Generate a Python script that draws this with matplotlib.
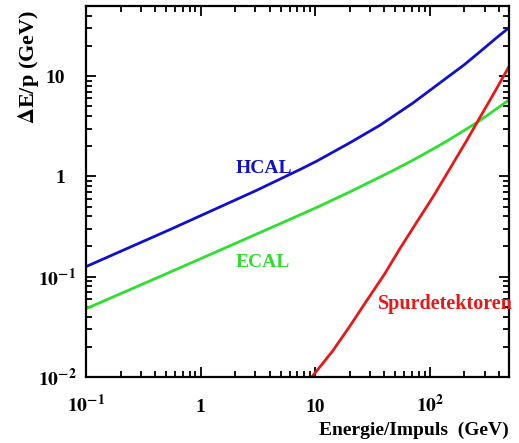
import numpy as np
import matplotlib.pyplot as plt
from matplotlib.ticker import FuncFormatter, LogLocator
from matplotlib.transforms import ScaledTranslation

plt.rcParams['font.family'] = 'Liberation Serif'
plt.rcParams['font.weight'] = 'bold'
plt.rcParams['mathtext.fontset'] = 'stix'

# values
hcal_e = [0.1, 0.551, 3.03, 7.35, 10.3, 20.0, 36.6, 71.0, 140, 200, 272, 380, 487]
hcal_de = [0.126, 0.298, 0.72, 1.17, 1.42, 2.16, 3.23, 5.38, 9.6, 13.0, 17.4, 24.0, 30.2]

ecal_e = [0.1, 0.551, 3.03, 10.3, 20.0, 47.5, 71.0, 100, 140, 200, 256, 360, 487]
ecal_de = [0.0479, 0.112, 0.264, 0.49, 0.70, 1.14, 1.45, 1.80, 2.24, 2.88, 3.43, 4.5, 5.75]

spur_e = [9.33, 14.2, 20.0, 28.2, 40.0, 54.7, 75.0, 106, 150, 210, 256, 350, 487]
spur_de = [0.01, 0.0182, 0.032, 0.058, 0.105, 0.19, 0.335, 0.62, 1.2, 2.29, 3.4, 6.3, 12.3]

blue = '#1010cc'
green = '#2ee02e'
red = '#e81818'


def fmt(v, pos):
    if abs(v - 1) < 1e-9:
        return '1'
    if abs(v - 10) < 1e-9:
        return '10'
    return r'$\mathbf{10^{%d}}$' % round(np.log10(v))


fig = plt.figure(figsize=(5.19, 4.43), dpi=100)
ax = fig.add_axes([0.1657, 0.149, 0.815, 0.8375])

ax.plot(hcal_e, hcal_de, color=blue, lw=2)
ax.plot(ecal_e, ecal_de, color=green, lw=2)
ax.plot(spur_e, spur_de, color=red, lw=2)

ax.set_xscale('log')
ax.set_yscale('log')
ax.set_xlim(0.1, 490)
ax.set_ylim(0.01, 50)

for a in (ax.xaxis, ax.yaxis):
    a.set_major_locator(LogLocator(base=10))
    a.set_minor_locator(LogLocator(base=10, subs=np.arange(2, 10)))
    a.set_major_formatter(FuncFormatter(fmt))
    a.set_minor_formatter(FuncFormatter(lambda v, p: ''))

ax.tick_params(which='both', direction='in', top=True, right=True, width=1.3,
               labelsize=14)
ax.tick_params(which='major', length=7)
ax.tick_params(which='minor', length=4)
ax.tick_params(axis='x', pad=25)
ax.tick_params(axis='y', pad=7)
for s in ax.spines.values():
    s.set_linewidth(1.6)

ax.text(2.03, 1.2, 'HCAL', color=blue, fontsize=14, ha='left', va='center')
ax.text(2.03, 0.138, 'ECAL', color=green, fontsize=14, ha='left', va='center')
ax.text(35.2, 0.0537, 'Spurdetektoren', color=red, fontsize=14.5,
        ha='left', va='center', clip_on=False)

ax.set_xlabel('Energie/Impuls  (GeV)', fontsize=14, fontweight='bold')
ax.xaxis.set_label_coords(1.0, -0.12)
ax.xaxis.label.set_horizontalalignment('right')
ax.set_ylabel(r'$\mathbf{\Delta}$E/p (GeV)', fontsize=16, fontweight='bold')
ax.yaxis.set_label_coords(-0.165, 0.99)
ax.yaxis.label.set_verticalalignment('top')
ax.yaxis.label.set_horizontalalignment('right')

fig.canvas.draw()
for t in ax.xaxis.get_major_ticks():
    t.label1.set_verticalalignment('baseline')
shift = ScaledTranslation(-11 / 100, 0, fig.dpi_scale_trans)
for t in ax.yaxis.get_major_ticks():
    if t.label1.get_text() in ('1', '10'):
        t.label1.set_transform(t.label1.get_transform() + shift)

fig.savefig('out.png', dpi=100)
